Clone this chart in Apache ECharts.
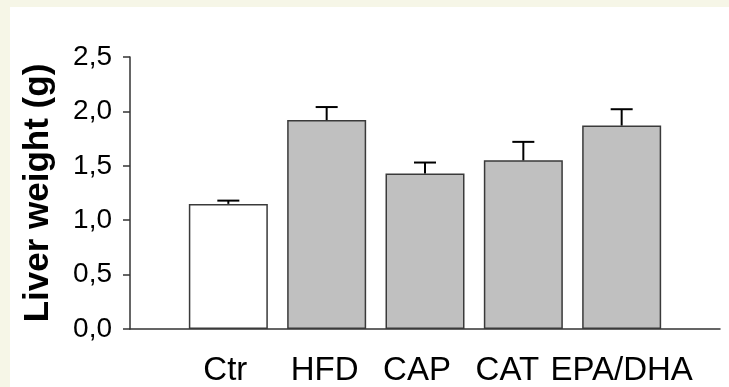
<!DOCTYPE html>
<html>
<head>
<meta charset="utf-8">
<script src="https://cdn.jsdelivr.net/npm/echarts@6/dist/echarts.min.js"></script>
<style>
html,body{margin:0;padding:0;background:#F6F6E7;}
#chart{width:729px;height:387px;}
</style>
</head>
<body>
<div id="chart"></div>
<script>
var categories = ['Ctr', 'HFD', 'CAP', 'CAT', 'EPA/DHA'];
var means = [1.15, 1.92, 1.43, 1.55, 1.87];
var errors = [0.03, 0.12, 0.10, 0.17, 0.15];
var yTicks = ['0,0', '0,5', '1,0', '1,5', '2,0', '2,5'];

var axisCats = [''].concat(categories).concat(['']);
var barData = [null];
var errData = [];
for (var i = 0; i < categories.length; i++) {
  barData.push({
    value: means[i],
    itemStyle: { color: i === 0 ? '#FFFFFF' : '#C0C0C0' }
  });
  errData.push([i + 1, means[i], errors[i]]);
}
barData.push(null);

// label styling (small left nudges as in the original figure)
var labelStyleKeys = ['s0', 's1', 's2', 's3', 's4'];
var baseFont = { color: '#000000', fontFamily: 'Liberation Sans, Arial, sans-serif', fontSize: 33 };
function nudge(px) {
  return Object.assign({}, baseFont, { padding: [0, px * 2, 0, 0] });
}

var chart = echarts.init(document.getElementById('chart'));
chart.setOption({
  backgroundColor: '#F6F6E7',
  animation: false,
  graphic: [{
    type: 'rect', z: -1, silent: true,
    shape: { x: 10, y: 7, width: 719, height: 380 },
    style: { fill: '#FFFFFF' }
  }],
  grid: { left: 130, right: 9, top: 57, bottom: 58, containLabel: false },
  xAxis: {
    type: 'category',
    data: axisCats,
    boundaryGap: false,
    axisLine: { lineStyle: { color: '#333333', width: 1.5 } },
    axisTick: { show: false },
    axisLabel: {
      color: '#000000', fontFamily: 'Liberation Sans, Arial, sans-serif',
      fontSize: 33, margin: 25, interval: 0,
      formatter: function (v, idx) {
        if (!v) return '';
        return '{' + labelStyleKeys[idx - 1] + '|' + v + '}';
      },
      rich: {
        s0: nudge(3), s1: nudge(2), s2: nudge(8), s3: nudge(16), s4: nudge(0)
      }
    },
    splitLine: { show: false }
  },
  yAxis: {
    type: 'value',
    min: 0, max: 2.5, interval: 0.5,
    name: 'Liver weight (g)',
    nameLocation: 'middle',
    nameGap: 74,
    nameRotate: 90,
    nameTextStyle: {
      color: '#000000', fontFamily: 'Liberation Sans, Arial, sans-serif',
      fontSize: 35, fontWeight: 'bold'
    },
    axisLine: { show: true, lineStyle: { color: '#333333', width: 1.5 } },
    axisTick: { show: true, length: 7, lineStyle: { color: '#333333', width: 1.5 } },
    axisLabel: {
      color: '#000000', fontFamily: 'Liberation Sans, Arial, sans-serif',
      fontSize: 28, margin: 18,
      formatter: function (v) { return yTicks[Math.round(v / 0.5)]; }
    },
    splitLine: { show: false }
  },
  series: [{
    type: 'bar',
    data: barData,
    barWidth: 79,
    itemStyle: { borderColor: '#3A3A3A', borderWidth: 1.5 },
    z: 2
  }, {
    type: 'custom',
    data: errData,
    z: 3,
    renderItem: function (params, api) {
      var x = api.value(0);
      var m = api.value(1);
      var e = api.value(2);
      var p0 = api.coord([x, m]);
      var p1 = api.coord([x, m + e]);
      var half = 11;
      return {
        type: 'group',
        children: [{
          type: 'line',
          shape: { x1: p0[0], y1: p0[1], x2: p1[0], y2: p1[1] },
          style: { stroke: '#000000', lineWidth: 2 }
        }, {
          type: 'line',
          shape: { x1: p1[0] - half, y1: p1[1], x2: p1[0] + half, y2: p1[1] },
          style: { stroke: '#000000', lineWidth: 2 }
        }]
      };
    }
  }]
});
</script>
</body>
</html>
